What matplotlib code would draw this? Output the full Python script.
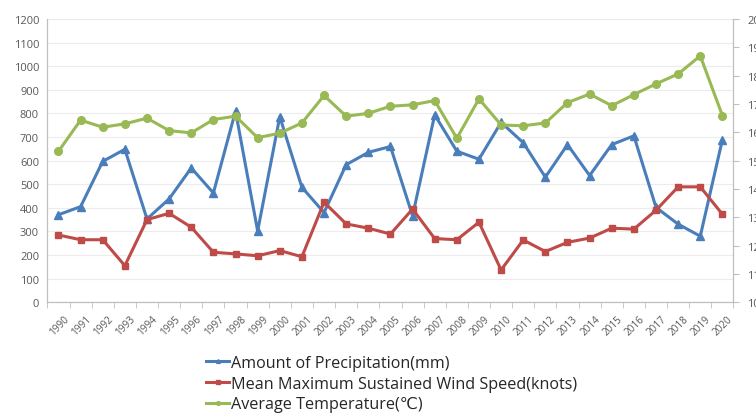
import numpy as np
import matplotlib.pyplot as plt
from matplotlib.ticker import MultipleLocator, FixedLocator
from matplotlib.transforms import ScaledTranslation

plt.rcParams['font.family'] = ['Open Sans', 'DejaVu Sans']

years = list(range(1990, 2021))
precip = [371, 405, 597, 648, 353, 438, 569, 463, 810, 302, 786, 487, 380, 583, 635,
          660, 366, 794, 640, 606, 762, 676, 530, 668, 537, 668, 705, 402, 331, 280, 689]
wind = [285, 265, 265, 155, 350, 377, 318, 212, 205, 197, 219, 193, 424, 332, 314,
        289, 395, 270, 265, 339, 137, 264, 215, 254, 272, 314, 310, 390, 489, 489, 373]
temp = [15.33, 16.43, 16.18, 16.30, 16.50, 16.06, 15.98, 16.45, 16.57, 15.81, 15.97,
        16.33, 17.30, 16.57, 16.67, 16.92, 16.97, 17.12, 15.79, 17.18, 16.26, 16.23,
        16.33, 17.05, 17.35, 16.94, 17.33, 17.71, 18.06, 18.70, 16.59]

labels = ['Amount of Precipitation(mm)',
          'Mean Maximum Sustained Wind Speed(knots)',
          'Average Temperature(\u2103)']

blue = '#4a7ebb'
red = '#be4b48'
green = '#98b954'
gray = '#595959'

fig = plt.figure(figsize=(7.56, 4.14), dpi=100)
ax = fig.add_axes([0.0627, 0.2674, 0.9075, 0.6843])
ax2 = ax.twinx()

l1, = ax.plot(years, precip, color=blue, lw=2.2, marker='^', ms=5.5, label=labels[0])
l2, = ax.plot(years, wind, color=red, lw=2.2, marker='s', ms=4.5, label=labels[1])
l3, = ax2.plot(years, temp, color=green, lw=2.2, marker='o', ms=5.5, label=labels[2])

ax.set_xlim(1989.5, 2020.5)
ax.set_ylim(0, 1200)
ax2.set_ylim(10, 20)
ax.yaxis.set_major_locator(MultipleLocator(100))
ax2.yaxis.set_major_locator(MultipleLocator(1))
ax.grid(axis='y', color='#ececec', lw=0.8)
ax.set_axisbelow(True)

ax.set_xticks(years)
ax.set_xticklabels([str(y) for y in years], rotation=45, ha='right', va='top',
                   rotation_mode='anchor', fontsize=7.2, color=gray)
ax.xaxis.set_minor_locator(FixedLocator(np.arange(1989.5, 2021, 1)))
ax.tick_params(axis='x', which='major', length=0, pad=8)
ax.tick_params(axis='x', which='minor', length=4, color='#bfbfbf', direction='out')
for t in ax.get_xticklabels():
    t.set_transform(t.get_transform() + ScaledTranslation(5/100, 0, fig.dpi_scale_trans))

ax.tick_params(axis='y', length=0, labelsize=8, labelcolor=gray, pad=6)
ax2.tick_params(axis='y', length=4, color='#bfbfbf', labelsize=8, labelcolor=gray, pad=6)

for a in (ax, ax2):
    a.spines['top'].set_visible(False)
    for s in ('left', 'right', 'bottom'):
        a.spines[s].set_color('#bfbfbf')
        a.spines[s].set_linewidth(0.8)

fig.legend(handles=[l1, l2, l3], loc='upper left', bbox_to_anchor=(0.262, 0.160),
           frameon=False, fontsize=11.6, handlelength=1.45, handletextpad=0.1,
           labelspacing=0.3, borderpad=0, markerscale=0.5, labelcolor='#262626')

fig.savefig('out.png', dpi=100)
